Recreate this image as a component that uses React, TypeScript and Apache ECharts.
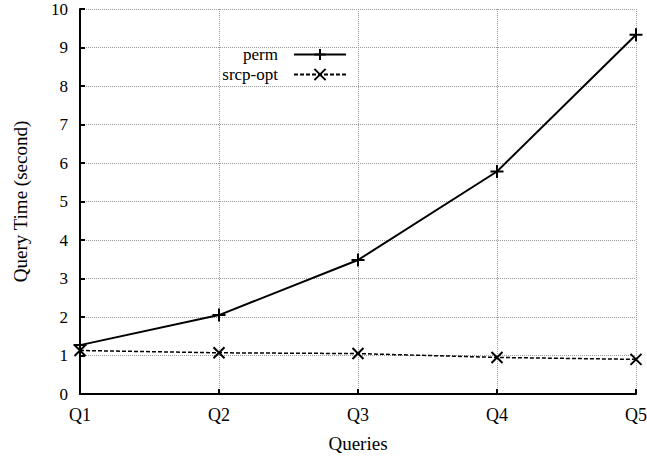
import React, { useEffect, useRef } from "react";
import * as echarts from "echarts";

const categories = ["Q1", "Q2", "Q3", "Q4", "Q5"];
const permValues = [1.27, 2.05, 3.48, 5.78, 9.33];
const srcpValues = [1.13, 1.07, 1.05, 0.95, 0.9];
const yTicks = { min: 0, max: 10, interval: 1 };

const PLUS = "path://M0,5L10,5M5,0L5,10";
const CROSS = "path://M0,0L10,10M10,0L0,10";
const FONT = "Liberation Serif";

export default function App() {
  const ref = useRef<HTMLDivElement>(null);
  useEffect(() => {
    const chart = echarts.init(ref.current!, null, { renderer: "svg" });
    const grid = { type: "dotted" as const, color: "#999", width: 1 };
    const legendBase = {
      orient: "horizontal" as const,
      right: 300,
      align: "right" as const,
      padding: 0,
      itemWidth: 52,
      itemHeight: 14,
      textStyle: { fontFamily: FONT, fontSize: 17, color: "#000", padding: [0, 11, 0, 0] },
    };
    chart.setOption({
      animation: false,
      backgroundColor: "#fff",
      textStyle: { fontFamily: FONT, color: "#000" },
      grid: { left: 80, right: 11, top: 9, bottom: 62, outerBoundsMode: "none", containLabel: false },
      legend: [
        { ...legendBase, top: 46, data: ["perm"] },
        { ...legendBase, top: 66, data: ["srcp-opt"] },
      ],
      xAxis: {
        type: "category",
        data: categories,
        boundaryGap: false,
        name: "Queries",
        nameLocation: "middle",
        nameGap: 40,
        nameTextStyle: { fontFamily: FONT, fontSize: 19, color: "#000" },
        axisLine: { lineStyle: { color: "#000", width: 2 } },
        axisTick: { inside: true, length: 5, lineStyle: { color: "#000", width: 2 } },
        axisLabel: { fontFamily: FONT, fontSize: 18, color: "#000", margin: 12 },
        splitLine: { show: true, lineStyle: grid },
      },
      yAxis: {
        type: "value",
        min: yTicks.min,
        max: yTicks.max,
        interval: yTicks.interval,
        name: "Query Time (second)",
        nameLocation: "middle",
        nameGap: 50,
        nameTextStyle: { fontFamily: FONT, fontSize: 19, color: "#000" },
        axisLine: { show: true, lineStyle: { color: "#000", width: 2 } },
        axisTick: { show: true, inside: true, length: 5, lineStyle: { color: "#000", width: 2 } },
        axisLabel: { fontFamily: FONT, fontSize: 17, color: "#000", margin: 12 },
        splitLine: { show: true, lineStyle: grid },
      },
      series: [
        {
          name: "perm",
          type: "line",
          data: permValues,
          symbol: PLUS,
          symbolSize: 13,
          showAllSymbol: true,
          lineStyle: { color: "#000", width: 2, type: "solid" },
          itemStyle: { color: "transparent", borderColor: "#000", borderWidth: 2 },
        },
        {
          name: "srcp-opt",
          type: "line",
          data: srcpValues,
          symbol: CROSS,
          symbolSize: 11,
          showAllSymbol: true,
          lineStyle: { color: "#000", width: 1.5, type: [4, 2] },
          itemStyle: { color: "transparent", borderColor: "#000", borderWidth: 2 },
        },
      ],
    });
    return () => chart.dispose();
  }, []);
  return <div ref={ref} style={{ width: 647, height: 456, position: "absolute", left: 0, top: 0 }} />;
}
